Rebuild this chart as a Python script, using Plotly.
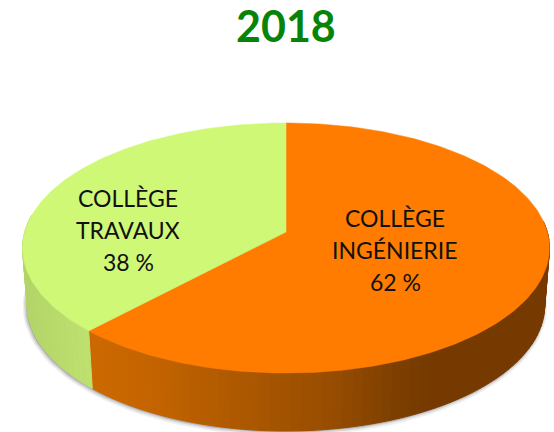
import math
import plotly.graph_objects as go

# ---- data ----
categories = ["COLLÈGE INGÉNIERIE", "COLLÈGE TRAVAUX"]
label_lines = [["COLLÈGE", "INGÉNIERIE"], ["COLLÈGE", "TRAVAUX"]]
values = [62, 38]
title = "2018"

# ---- styles ----
top_colors = ["#ff7c00", "#cff877"]
# wall shade stops: (screen x, colour)
wall_shades = [
    [(92, (204, 104, 0)), (150, (196, 100, 0)), (250, (170, 87, 0)), (330, (152, 77, 0)),
     (400, (124, 62, 0)), (430, (118, 58, 0)), (560, (118, 58, 0))],
    [(20, (178, 212, 104)), (60, (186, 220, 108)), (95, (192, 226, 112))],
]
CX, TOP_Y, BOT_Y = 286.0, 232.0, 288.8
A, B, K = 261.3, 123.0, 0.128
BOT_SCALE, BOT_B = 0.982, 124.0


def project(theta_deg, bottom=False, grow=0.0, dx=0.0, dy=0.0):
    t = math.radians(theta_deg)
    u, v = math.sin(t), math.cos(t)
    w = 1 + K * v
    if bottom:
        return CX + dx + (A * BOT_SCALE + grow) * u / w, BOT_Y + dy - (BOT_B + grow) * v / w
    return CX + A * u / w, TOP_Y - B * v / w


def shade(stops, x):
    if x <= stops[0][0]:
        return stops[0][1]
    for (x0, c0), (x1, c1) in zip(stops, stops[1:]):
        if x <= x1:
            f = (x - x0) / (x1 - x0)
            return tuple(c0[i] + f * (c1[i] - c0[i]) for i in range(3))
    return stops[-1][1]


def frange(a, b, step):
    n = max(1, int(round((b - a) / step)))
    return [a + (b - a) * i / n for i in range(n + 1)]


total = sum(values)
edges = [0.0]
for val in values:
    edges.append(edges[-1] + 360.0 * val / total)

fig = go.Figure()


def poly(xs, ys, color, line=0.0):
    fig.add_trace(go.Scatter(
        x=xs, y=ys, mode="lines", fill="toself", fillcolor=color,
        line=dict(color=color if line else "rgba(0,0,0,0)", width=line),
        hoverinfo="skip", showlegend=False))


# soft shadow under the base
shadow_angles = frange(60, 300, 3)
for grow, dx, dy, alpha in [(3.5, -1, 1, 0.10), (2.2, -1, 0.5, 0.18), (1.0, -0.5, 0.3, 0.30)]:
    pts = [project(a, True, grow, dx, dy) for a in shadow_angles]
    poly([p[0] for p in pts], [p[1] for p in pts], f"rgba(90,90,90,{alpha})")

# side wall, fine strips
wall_ranges = [(85.0, edges[1]), (edges[1], 278.0)]
for (a0, a1), stops in zip(wall_ranges, wall_shades):
    angles = frange(a0, a1, 2)
    for p, q in zip(angles, angles[1:]):
        t0, t1 = project(p), project(q)
        b0, b1 = project(p, True), project(q, True)
        r, g, bl = shade(stops, (t0[0] + t1[0]) / 2)
        color = f"rgb({r:.0f},{g:.0f},{bl:.0f})"
        poly([t0[0], t1[0], b1[0], b0[0], t0[0]], [t0[1], t1[1], b1[1], b0[1], t0[1]], color, 1.0)

# top face
for i, color in enumerate(top_colors):
    pts = [project(a) for a in frange(edges[i], edges[i + 1], 1)]
    xs = [CX] + [p[0] for p in pts] + [CX]
    ys = [TOP_Y] + [p[1] for p in pts] + [TOP_Y]
    poly(xs, ys, color, 0.5)

annotations = [dict(x=285.5, y=25, text=f"<b>{title}</b>", showarrow=False,
                    font=dict(family="Lato", size=43, color="#078407"))]
label_pos = [(395, 218), (128, 198)]
for (lx, ly), lines, val in zip(label_pos, label_lines, values):
    for j, txt in enumerate(lines + [f"{val} %"]):
        annotations.append(dict(x=lx, y=ly + j * 32, text=txt, showarrow=False,
                                font=dict(family="Lato", size=23, color="#111111")))

fig.update_layout(
    width=554, height=432, margin=dict(l=0, r=0, t=0, b=0),
    paper_bgcolor="white", plot_bgcolor="white", showlegend=False,
    xaxis=dict(range=[0, 554], visible=False, fixedrange=True),
    yaxis=dict(range=[432, 0], visible=False, fixedrange=True),
    annotations=annotations,
)
fig.write_html("out.html", config={"displayModeBar": False},
               post_script="document.body.style.margin='0';document.documentElement.style.overflow='hidden';")
